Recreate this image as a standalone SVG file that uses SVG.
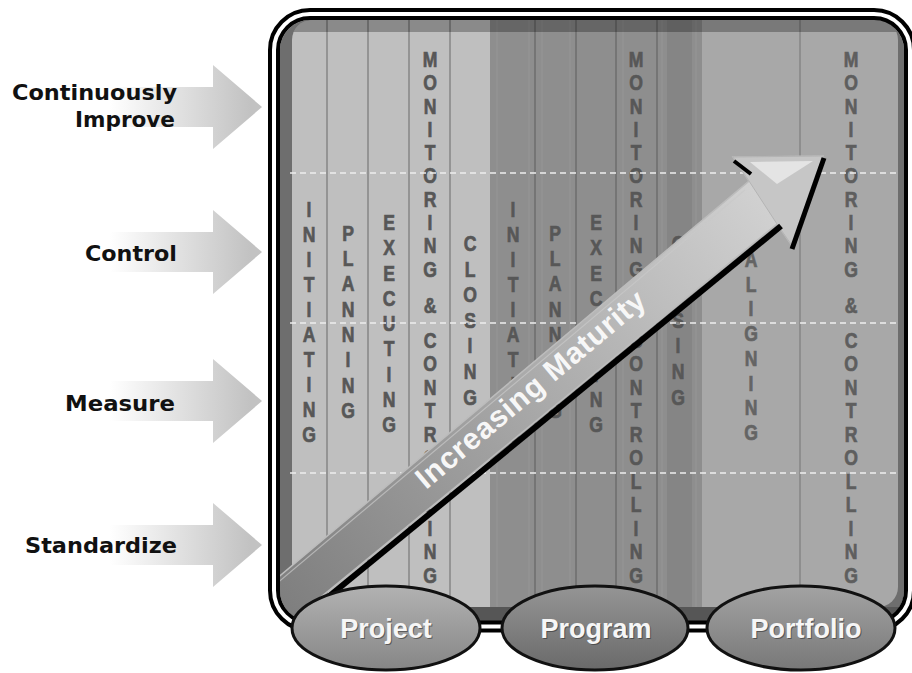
<svg xmlns="http://www.w3.org/2000/svg" width="912" height="673" viewBox="0 0 912 673">
<defs>
<style>
.lbl{font-family:"DejaVu Sans","Liberation Sans",sans-serif;font-weight:bold;font-size:21px;fill:#111;text-anchor:end}
.col{font-family:"Liberation Sans",Arial,sans-serif;font-weight:bold;font-size:22px;fill:#575757;stroke:#575757;stroke-width:0.7;text-anchor:middle}
.div{stroke:#868686;stroke-width:1.5}
.divd{stroke:#6c6c6c;stroke-width:1.5}
.faint{stroke:#9c9c9c;stroke-width:1;opacity:0.6}
.dash{stroke:#eeeeee;stroke-width:1.6;stroke-dasharray:6 4;fill:none}
.ov{font-family:"Liberation Sans",Arial,sans-serif;font-weight:bold;font-size:27px;fill:#f6f6f6;text-anchor:middle}
.ovs{font-family:"Liberation Sans",Arial,sans-serif;font-weight:bold;font-size:27px;fill:#333;text-anchor:middle;opacity:0.6}
.ell{stroke:#111;stroke-width:3}
</style>
<linearGradient id="ga" gradientUnits="userSpaceOnUse" x1="110" y1="0" x2="250" y2="0">
<stop offset="0" stop-color="#ffffff"/><stop offset="1" stop-color="#c2c2c2"/>
</linearGradient>
<linearGradient id="gs" gradientUnits="userSpaceOnUse" x1="300" y1="620" x2="780" y2="180">
<stop offset="0" stop-color="#7f7f7f"/><stop offset="1" stop-color="#d4d4d4"/>
</linearGradient>
<linearGradient id="ge1" x1="0" y1="0" x2="0" y2="1">
<stop offset="0" stop-color="#b2b2b2"/><stop offset="1" stop-color="#868686"/>
</linearGradient>
<linearGradient id="ge2" x1="0" y1="0" x2="0" y2="1">
<stop offset="0" stop-color="#959595"/><stop offset="1" stop-color="#6a6a6a"/>
</linearGradient>
<linearGradient id="ge3" x1="0" y1="0" x2="0" y2="1">
<stop offset="0" stop-color="#a3a3a3"/><stop offset="1" stop-color="#787878"/>
</linearGradient>
<clipPath id="cp"><rect x="280" y="20" width="624" height="601" rx="30"/></clipPath>
<clipPath id="cc"><rect x="292" y="20" width="606" height="587" rx="20"/></clipPath>
<path id="arr" d="M95,-20 H213 V-42 L262,0 L213,42 V20 H95 Z"/>
</defs>

<g id="levels">
<g id="lvl-improve">
<use href="#arr" y="107" fill="url(#ga)"/>
<text class="lbl" x="177" y="100" textLength="165" lengthAdjust="spacingAndGlyphs">Continuously</text>
<text class="lbl" x="175" y="127" textLength="100" lengthAdjust="spacingAndGlyphs">Improve</text>
</g>
<g id="lvl-control">
<use href="#arr" y="252" fill="url(#ga)"/>
<text class="lbl" x="177" y="261" textLength="92" lengthAdjust="spacingAndGlyphs">Control</text>
</g>
<g id="lvl-measure">
<use href="#arr" y="401" fill="url(#ga)"/>
<text class="lbl" x="175" y="411" textLength="110" lengthAdjust="spacingAndGlyphs">Measure</text>
</g>
<g id="lvl-standardize">
<use href="#arr" y="545" fill="url(#ga)"/>
<text class="lbl" x="177" y="553" textLength="152" lengthAdjust="spacingAndGlyphs">Standardize</text>
</g>
</g>

<g id="panel">
<rect x="280" y="20" width="624" height="601" rx="30" fill="#6e6e6e"/>
<g clip-path="url(#cc)">
<rect x="292" y="20" width="198" height="587" fill="#bfbfbf"/>
<rect x="490" y="20" width="212" height="587" fill="#8e8e8e"/>
<rect x="702" y="20" width="196" height="587" fill="#a8a8a8"/>
<rect x="667" y="20" width="25" height="587" fill="#858585"/>
<line class="faint" x1="497" y1="20" x2="497" y2="607"/>
<line class="faint" x1="529" y1="20" x2="529" y2="607"/>
<line class="faint" x1="542" y1="20" x2="542" y2="607"/>
<line class="faint" x1="570" y1="20" x2="570" y2="607"/>
<line class="faint" x1="623" y1="20" x2="623" y2="607"/>
<line class="faint" x1="662" y1="20" x2="662" y2="607"/>
<line class="faint" x1="696" y1="20" x2="696" y2="607"/>
<line class="div" x1="327" y1="20" x2="327" y2="607"/>
<line class="div" x1="368" y1="20" x2="368" y2="607"/>
<line class="div" x1="409" y1="20" x2="409" y2="607"/>
<line class="div" x1="450" y1="20" x2="450" y2="607"/>
<line class="divd" x1="535" y1="20" x2="535" y2="607"/>
<line class="divd" x1="576" y1="20" x2="576" y2="607"/>
<line class="divd" x1="616" y1="20" x2="616" y2="607"/>
<line class="divd" x1="657" y1="20" x2="657" y2="607"/>
<line class="div" x1="800" y1="20" x2="800" y2="607"/>
<rect x="280" y="20" width="624" height="12" fill="#000" opacity="0.28"/>
</g>
<rect x="280" y="607" width="624" height="14" fill="#565656" clip-path="url(#cp)"/>
<rect x="274" y="14" width="636" height="612.5" rx="36" fill="none" stroke="#000" stroke-width="12"/>
<rect x="274" y="14" width="636" height="612.5" rx="36" fill="none" stroke="#fff" stroke-width="4"/>
</g>

<g id="project-phases">
<text class="col" transform="translate(309,0) scale(0.8,1)"><tspan x="0" y="217">I</tspan><tspan x="0" y="242">N</tspan><tspan x="0" y="267">I</tspan><tspan x="0" y="292">T</tspan><tspan x="0" y="317">I</tspan><tspan x="0" y="342">A</tspan><tspan x="0" y="367">T</tspan><tspan x="0" y="392">I</tspan><tspan x="0" y="417">N</tspan><tspan x="0" y="442">G</tspan></text>
<text class="col" transform="translate(348,0) scale(0.8,1)"><tspan x="0" y="241">P</tspan><tspan x="0" y="266">L</tspan><tspan x="0" y="291">A</tspan><tspan x="0" y="317">N</tspan><tspan x="0" y="342">N</tspan><tspan x="0" y="367">I</tspan><tspan x="0" y="393">N</tspan><tspan x="0" y="418">G</tspan></text>
<text class="col" transform="translate(389,0) scale(0.8,1)"><tspan x="0" y="230">E</tspan><tspan x="0" y="255">X</tspan><tspan x="0" y="281">E</tspan><tspan x="0" y="306">C</tspan><tspan x="0" y="331">U</tspan><tspan x="0" y="356">T</tspan><tspan x="0" y="382">I</tspan><tspan x="0" y="407">N</tspan><tspan x="0" y="432">G</tspan></text>
<text class="col" transform="translate(430,0) scale(0.8,1)"><tspan x="0" y="67">M</tspan><tspan x="0" y="90">O</tspan><tspan x="0" y="114">N</tspan><tspan x="0" y="137">I</tspan><tspan x="0" y="160">T</tspan><tspan x="0" y="183">O</tspan><tspan x="0" y="207">R</tspan><tspan x="0" y="230">I</tspan><tspan x="0" y="253">N</tspan><tspan x="0" y="277">G</tspan><tspan x="0" y="313">&amp;</tspan><tspan x="0" y="348">C</tspan><tspan x="0" y="371.5">O</tspan><tspan x="0" y="395">N</tspan><tspan x="0" y="418.5">T</tspan><tspan x="0" y="442">R</tspan><tspan x="0" y="465.5">O</tspan><tspan x="0" y="489">L</tspan><tspan x="0" y="512.5">L</tspan><tspan x="0" y="536">I</tspan><tspan x="0" y="559.5">N</tspan><tspan x="0" y="583">G</tspan></text>
<text class="col" transform="translate(470,0) scale(0.8,1)"><tspan x="0" y="251">C</tspan><tspan x="0" y="277">L</tspan><tspan x="0" y="302">O</tspan><tspan x="0" y="328">S</tspan><tspan x="0" y="353">I</tspan><tspan x="0" y="379">N</tspan><tspan x="0" y="405">G</tspan></text>
</g>

<g id="program-phases">
<text class="col" transform="translate(513,0) scale(0.8,1)"><tspan x="0" y="217">I</tspan><tspan x="0" y="242">N</tspan><tspan x="0" y="267">I</tspan><tspan x="0" y="292">T</tspan><tspan x="0" y="317">I</tspan><tspan x="0" y="342">A</tspan><tspan x="0" y="367">T</tspan><tspan x="0" y="392">I</tspan><tspan x="0" y="417">N</tspan><tspan x="0" y="442">G</tspan></text>
<text class="col" transform="translate(555,0) scale(0.8,1)"><tspan x="0" y="241">P</tspan><tspan x="0" y="266">L</tspan><tspan x="0" y="291">A</tspan><tspan x="0" y="317">N</tspan><tspan x="0" y="342">N</tspan><tspan x="0" y="367">I</tspan><tspan x="0" y="393">N</tspan><tspan x="0" y="418">G</tspan></text>
<text class="col" transform="translate(596,0) scale(0.8,1)"><tspan x="0" y="230">E</tspan><tspan x="0" y="255">X</tspan><tspan x="0" y="281">E</tspan><tspan x="0" y="306">C</tspan><tspan x="0" y="331">U</tspan><tspan x="0" y="356">T</tspan><tspan x="0" y="382">I</tspan><tspan x="0" y="407">N</tspan><tspan x="0" y="432">G</tspan></text>
<text class="col" transform="translate(636,0) scale(0.8,1)"><tspan x="0" y="67">M</tspan><tspan x="0" y="90">O</tspan><tspan x="0" y="114">N</tspan><tspan x="0" y="137">I</tspan><tspan x="0" y="160">T</tspan><tspan x="0" y="183">O</tspan><tspan x="0" y="207">R</tspan><tspan x="0" y="230">I</tspan><tspan x="0" y="253">N</tspan><tspan x="0" y="277">G</tspan><tspan x="0" y="313">&amp;</tspan><tspan x="0" y="348">C</tspan><tspan x="0" y="371.5">O</tspan><tspan x="0" y="395">N</tspan><tspan x="0" y="418.5">T</tspan><tspan x="0" y="442">R</tspan><tspan x="0" y="465.5">O</tspan><tspan x="0" y="489">L</tspan><tspan x="0" y="512.5">L</tspan><tspan x="0" y="536">I</tspan><tspan x="0" y="559.5">N</tspan><tspan x="0" y="583">G</tspan></text>
<text class="col" transform="translate(678,0) scale(0.8,1)"><tspan x="0" y="251">C</tspan><tspan x="0" y="277">L</tspan><tspan x="0" y="302">O</tspan><tspan x="0" y="328">S</tspan><tspan x="0" y="353">I</tspan><tspan x="0" y="379">N</tspan><tspan x="0" y="405">G</tspan></text>
</g>

<g id="portfolio-phases">
<text class="col" transform="translate(751,0) scale(0.8,1)" style="fill:#646464;stroke:#646464"><tspan x="0" y="267">A</tspan><tspan x="0" y="292">L</tspan><tspan x="0" y="316">I</tspan><tspan x="0" y="341">G</tspan><tspan x="0" y="366">N</tspan><tspan x="0" y="391">I</tspan><tspan x="0" y="415">N</tspan><tspan x="0" y="440">G</tspan></text>
<text class="col" transform="translate(851,0) scale(0.8,1)" style="fill:#5e5e5e;stroke:#5e5e5e"><tspan x="0" y="67">M</tspan><tspan x="0" y="90">O</tspan><tspan x="0" y="114">N</tspan><tspan x="0" y="137">I</tspan><tspan x="0" y="160">T</tspan><tspan x="0" y="183">O</tspan><tspan x="0" y="207">R</tspan><tspan x="0" y="230">I</tspan><tspan x="0" y="253">N</tspan><tspan x="0" y="277">G</tspan><tspan x="0" y="313">&amp;</tspan><tspan x="0" y="348">C</tspan><tspan x="0" y="371.5">O</tspan><tspan x="0" y="395">N</tspan><tspan x="0" y="418.5">T</tspan><tspan x="0" y="442">R</tspan><tspan x="0" y="465.5">O</tspan><tspan x="0" y="489">L</tspan><tspan x="0" y="512.5">L</tspan><tspan x="0" y="536">I</tspan><tspan x="0" y="559.5">N</tspan><tspan x="0" y="583">G</tspan></text>
</g>

<g id="gridlines">
<line class="dash" x1="290" y1="173" x2="898" y2="173"/>
<line class="dash" x1="290" y1="323" x2="898" y2="323"/>
<line class="dash" x1="290" y1="473" x2="898" y2="473"/>
</g>

<g id="maturity-arrow" clip-path="url(#cp)">
<path d="M250,601 L749,181 L733,157 L823,156 L793,247 L777,224 L250,655 Z" fill="url(#gs)" stroke="#bcbcbc" stroke-width="1.5"/>
<path d="M250,606 L745,190" stroke="#c9c9c9" stroke-width="1.2" opacity="0.7" fill="none"/>
<path d="M749,181 L733,157 L823,156 L793,247 L777,224 Z" fill="#c6c6c6" stroke="#b4b4b4" stroke-width="1"/>
<path d="M750,162 L813,161 L777,184 Z" fill="#e4e4e4"/>
<path d="M316,607 L781,226" stroke="#000" stroke-width="6" fill="none"/>
<path d="M824,158 L792,249" stroke="#000" stroke-width="5" fill="none"/>
<path d="M734,161 L751,174" stroke="#000" stroke-width="4" fill="none"/>
<text transform="translate(426,490) rotate(-40)" font-family="Liberation Sans, Arial, sans-serif" font-weight="bold" font-size="30" letter-spacing="0.8" fill="#f7f7f7">Increasing Maturity</text>
</g>

<g id="node-project">
<ellipse class="ell" cx="386" cy="628" rx="94" ry="42" fill="url(#ge1)"/>
<text class="ovs" x="387" y="639">Project</text>
<text class="ov" x="386" y="638">Project</text>
</g>
<g id="node-program">
<ellipse class="ell" cx="595" cy="628" rx="93" ry="42" fill="url(#ge2)"/>
<text class="ovs" x="597" y="639">Program</text>
<text class="ov" x="596" y="638">Program</text>
</g>
<g id="node-portfolio">
<ellipse class="ell" cx="801" cy="628" rx="94" ry="42" fill="url(#ge3)"/>
<text class="ovs" x="807" y="639">Portfolio</text>
<text class="ov" x="806" y="638">Portfolio</text>
</g>
</svg>
